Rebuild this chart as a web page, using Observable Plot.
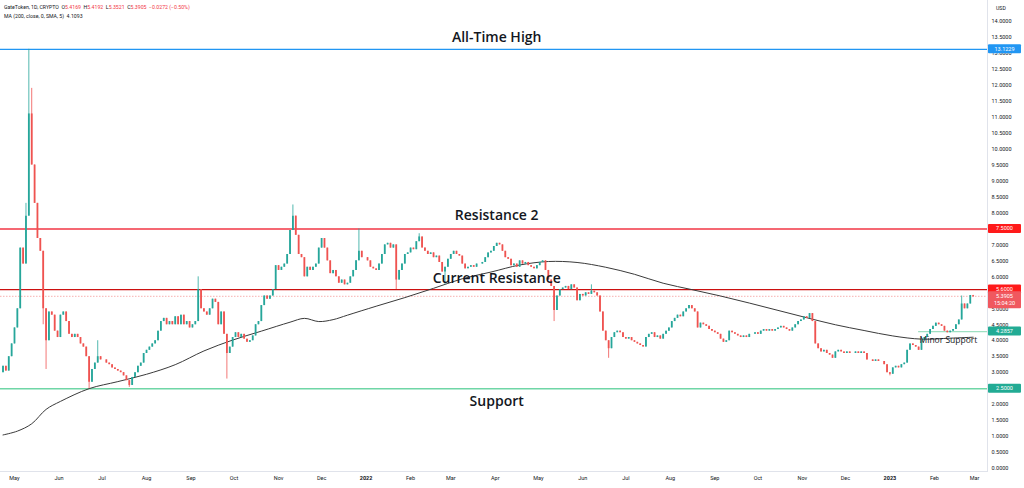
<!DOCTYPE html>
<html><head><meta charset="utf-8">
<script src="https://cdn.jsdelivr.net/npm/d3@7"></script>
<script src="https://cdn.jsdelivr.net/npm/@observablehq/plot@0.6"></script>
<style>
body{margin:0;background:#fff}
#wrap{position:relative;width:1024px;height:488px;font-family:Roboto,"Open Sans",sans-serif;overflow:hidden}
.hdr{position:absolute;left:4px;font-size:5.2px;line-height:6px;color:#131722;white-space:pre}
.r{color:#f23645}
#usd{position:absolute;left:996px;top:5px;font-size:5.2px;color:#131722}
</style></head>
<body><div id="wrap">
<div class="hdr" style="top:4px">GateToken, 1D, CRYPTO  O<span class="r">5.4169</span>  H<span class="r">5.4192</span>  L<span class="r">5.3521</span>  C<span class="r">5.3905</span>  <span class="r">−0.0272 (−0.50%)</span></div>
<div class="hdr" style="top:13px">MA (200, close, 0, SMA, 5)  4.1093</div>
<div id="usd">USD</div>
</div>
<script>
// 2-day candle closes from 2021-04-23 to 2023-02-28
const closes = [
3.2,3.05,3.5,3.9,4.4,5.0,6.9,6.4,7.9,11.1,
9.5,8.3,7.2,6.8,5.0,4.0,4.9,4.8,4.3,4.1,
4.8,4.9,4.6,4.2,4.1,4.2,4.1,3.9,3.8,3.5,
2.7,3.1,3.3,3.5,3.4,3.4,3.3,3.25,3.15,3.1,
3.05,3.0,2.9,2.75,2.6,2.85,3.0,3.2,3.3,3.6,
3.7,3.8,3.9,4.0,4.3,4.6,4.7,4.5,4.6,4.5,
4.75,4.5,4.8,4.5,4.6,4.4,4.5,4.6,5.6,5.0,
4.9,4.8,5.0,5.3,5.2,4.5,4.9,4.2,3.6,3.8,
4.1,4.25,4.1,4.2,4.05,3.95,4.0,4.15,4.5,4.6,
5.1,5.4,5.3,5.4,5.6,6.35,6.2,6.3,6.4,6.7,
7.45,7.9,7.3,6.7,6.6,6.0,6.3,6.2,6.3,6.4,
6.9,7.2,6.9,6.5,6.1,6.2,6.0,5.8,5.9,5.75,
5.8,6.0,6.2,6.5,6.8,6.6,6.6,6.5,6.3,6.25,
6.2,6.4,6.7,7.0,7.05,6.9,7.0,5.9,6.2,6.4,
6.7,6.75,6.9,6.85,7.1,7.25,6.9,6.8,6.7,6.75,
6.6,6.65,6.45,6.15,6.3,6.55,6.7,6.8,6.7,6.65,
6.4,6.25,6.3,6.35,6.3,6.4,6.4,6.45,6.6,6.75,
6.8,6.95,7.05,7.0,6.8,6.6,6.55,6.35,6.4,6.3,
6.5,6.4,6.45,6.35,6.3,6.25,6.35,6.45,6.5,6.2,
5.9,5.7,4.95,5.4,5.6,5.65,5.7,5.6,5.75,5.65,
5.25,5.45,5.4,5.5,5.45,5.55,5.5,5.4,4.9,4.3,
4.0,3.75,4.1,4.25,4.3,4.25,4.1,4.05,4.1,4.0,
3.95,3.9,3.85,3.8,4.1,4.2,4.25,4.1,4.15,4.05,
4.2,4.3,4.4,4.6,4.7,4.8,4.75,4.9,5.0,5.1,
5.0,4.9,4.4,4.55,4.5,4.45,4.35,4.3,4.25,4.2,
4.05,3.95,4.0,4.3,4.25,4.2,4.15,4.1,4.15,4.1,
4.2,4.2,4.25,4.2,4.3,4.35,4.3,4.35,4.3,4.35,
4.4,4.45,4.4,4.35,4.3,4.4,4.5,4.6,4.65,4.75,
4.7,4.85,4.6,3.9,3.75,3.65,3.7,3.6,3.55,3.45,
3.65,3.7,3.65,3.6,3.65,3.6,3.6,3.65,3.6,3.65,
3.6,3.4,3.4,3.35,3.4,3.35,3.35,3.25,3.0,2.95,
3.15,3.2,3.15,3.25,3.3,3.7,3.9,3.85,3.8,3.7,
4.0,4.1,4.2,4.35,4.45,4.55,4.5,4.45,4.3,4.25,
4.3,4.35,4.5,4.65,5.15,5.0,5.15,5.4169,5.3905
];
const firstOpen = 3.0;
// notable wick extremes (candle index -> price)
const highIdx  = [8, 9, 10, 12, 33, 68, 101, 124, 145, 205, 334, 338];
const highVals = [8.3, 13.1229, 11.9, 8.2, 4.0, 6.0, 8.25, 7.5, 7.35, 5.75, 5.4, 5.4192];
const lowIdx   = [14, 15, 30, 44, 78, 137, 154, 192, 211, 309, 338];
const lowVals  = [4.5, 3.1, 2.5, 2.54, 2.8, 5.6, 5.75, 4.6, 3.45, 2.9, 5.3521];
// 200-day SMA read at candle indices
const maIdx  = [0,5,10,15,20,30,40,50,60,70,80,90,100,105,110,115,120,130,140,150,160,170,180,190,200,210,220,230,240,250,260,270,280,290,300,310,320,330,338];
const maVals = [1.05,1.17,1.4,1.85,2.1,2.5,2.72,2.95,3.25,3.68,4.02,4.3,4.58,4.7,4.6,4.66,4.8,5.08,5.35,5.64,5.94,6.15,6.37,6.48,6.45,6.3,6.08,5.8,5.6,5.4,5.18,4.95,4.72,4.5,4.32,4.15,4.05,4.08,4.11];
// horizontal levels and their annotations
const annotationText  = ["All-Time High", "Resistance 2", "Current Resistance", "Support"];
const annotationLevel = [13.1229, 7.5, 5.6, 2.5];
const minorText = "Minor Support";
const minorLevel = 4.2857;
const minorStart = "2023-01-21";
const lastPrice = 5.3905;
const lastTime = "15:04:20";
// price-axis ticks (those hidden under price tags in the reference are left out)
const hiddenTicks = [2.5, 5.5, 7.5];
const yTicks = d3.range(0, 14.001, 0.5).filter(v => !hiddenTicks.includes(v));

const DAY = 864e5;
const start = Date.UTC(2021, 3, 23);
const candles = closes.map((c, i) => {
  const open = i === 0 ? firstOpen : closes[i - 1];
  return {date: new Date(start + 2 * i * DAY), open, close: c, high: Math.max(open, c), low: Math.min(open, c)};
});
highIdx.forEach((k, j) => candles[k].high = Math.max(candles[k].high, highVals[j]));
lowIdx.forEach((k, j) => candles[k].low = Math.min(candles[k].low, lowVals[j]));
const up = candles.filter(d => d.close >= d.open);
const down = candles.filter(d => d.close < d.open);
const ma = maIdx.map((k, j) => ({date: new Date(start + 2 * k * DAY), value: maVals[j]}));

const UP = "#26a69a", DOWN = "#ef5350";
const xDomain = [new Date(Date.UTC(2021, 3, 21, 6)), new Date(Date.UTC(2023, 2, 10))];
const monthTicks = d3.utcMonth.range(new Date(Date.UTC(2021, 4, 1)), new Date(Date.UTC(2023, 2, 2)));
const labelDate = new Date(Date.UTC(2022, 3, 2));
const labelOffsets = [-12, -13, -11, 13];

const annotationMarks = annotationText.map((t, i) =>
  Plot.text([t], {x: () => labelDate, y: () => annotationLevel[i], text: d => d, dy: labelOffsets[i],
    fontSize: 14, fontFamily: "Open Sans", fontWeight: 600, fill: "#131722"}));

const chart = Plot.plot({
  width: 1024, height: 488,
  marginLeft: 0, marginRight: 37, marginTop: 0, marginBottom: 17,
  style: {fontFamily: "Roboto, sans-serif", fontSize: "5.5px", color: "#131722", background: "transparent", overflow: "visible"},
  x: {type: "utc", domain: xDomain},
  y: {domain: [0, 14], range: [468, 20.8]},
  marks: [
    Plot.ruleY([annotationLevel[0]], {stroke: "#2196f3", strokeWidth: 1.2}),
    Plot.ruleY([annotationLevel[1]], {stroke: "#f23645", strokeWidth: 1.5}),
    Plot.ruleY([annotationLevel[2]], {stroke: "#cc1010", strokeWidth: 1.2}),
    Plot.ruleY([annotationLevel[3]], {stroke: "#6fd6a6", strokeWidth: 1.5}),
    Plot.ruleY([lastPrice], {stroke: "#ef5350", strokeOpacity: 0.45, strokeWidth: 1, strokeDasharray: "1.5,1.5"}),
    Plot.ruleY([minorLevel], {x1: new Date(minorStart), x2: xDomain[1], stroke: "#9fe0c2", strokeWidth: 1.2}),
    Plot.line(ma, {x: "date", y: "value", stroke: "#3a3a3a", strokeWidth: 1, curve: "catmull-rom"}),
    Plot.ruleX(up, {x: "date", y1: "low", y2: "high", stroke: UP, strokeWidth: 0.8}),
    Plot.ruleX(down, {x: "date", y1: "low", y2: "high", stroke: DOWN, strokeWidth: 0.8}),
    Plot.ruleX(up, {x: "date", y1: "open", y2: "close", stroke: UP, strokeWidth: 1.8}),
    Plot.ruleX(down, {x: "date", y1: "open", y2: "close", stroke: DOWN, strokeWidth: 1.8}),
    ...annotationMarks,
    Plot.text([minorText], {x: () => new Date(minorStart), y: () => minorLevel, text: d => d, dy: 9, dx: 1,
      textAnchor: "start", fontSize: 8.5, fontFamily: "Open Sans", fill: "#131722"}),
    Plot.frame({anchor: "right", stroke: "#e0e3eb"}),
    Plot.frame({anchor: "bottom", stroke: "#e0e3eb"}),
    Plot.axisY({anchor: "right", ticks: yTicks, tickFormat: d => d.toFixed(4), tickSize: 0, tickPadding: 4, fontSize: 5.5, label: null}),
    Plot.axisX({ticks: monthTicks, tickSize: 0, tickPadding: 5, fontSize: 5.5, label: null,
      tickFormat: d => d.getUTCMonth() === 0 ? String(d.getUTCFullYear()) : d3.utcFormat("%b")(d)})
  ]
});

const svg = d3.select(chart);
svg.selectAll("text").each(function() {
  if (/^20\d\d$/.test(this.textContent)) d3.select(this).attr("font-weight", "bold");
});

// price tags on the right axis
const ys = chart.scale("y");
const x0 = 1024 - 37 + 1;
const tags = [
  {v: annotationLevel[0], fill: "#2196f3"},
  {v: annotationLevel[1], fill: "#ff1a1a"},
  {v: annotationLevel[2], fill: "#ff1a1a"},
  {v: lastPrice, fill: "#f0585f", time: lastTime},
  {v: minorLevel, fill: "#22ab94"},
  {v: annotationLevel[3], fill: "#22ab94"}
];
const g = svg.append("g");
tags.forEach(t => {
  const y = ys.apply(t.v);
  g.append("rect").attr("x", x0).attr("y", y - 4.5).attr("width", 33).attr("height", t.time ? 17 : 9)
    .attr("rx", 1).attr("fill", t.fill);
  g.append("text").attr("x", x0 + 16.5).attr("y", y).attr("dy", "0.35em").attr("text-anchor", "middle")
    .attr("fill", "white").attr("font-size", 5.5).text(t.v.toFixed(4));
  if (t.time) g.append("text").attr("x", x0 + 16.5).attr("y", y + 7.5).attr("dy", "0.35em").attr("text-anchor", "middle")
    .attr("fill", "white").attr("font-size", 5.5).text(t.time);
});

const wrap = document.getElementById("wrap");
chart.style.position = "absolute"; chart.style.left = "0"; chart.style.top = "0";
wrap.insertBefore(chart, wrap.firstChild);
</script>
</body></html>
